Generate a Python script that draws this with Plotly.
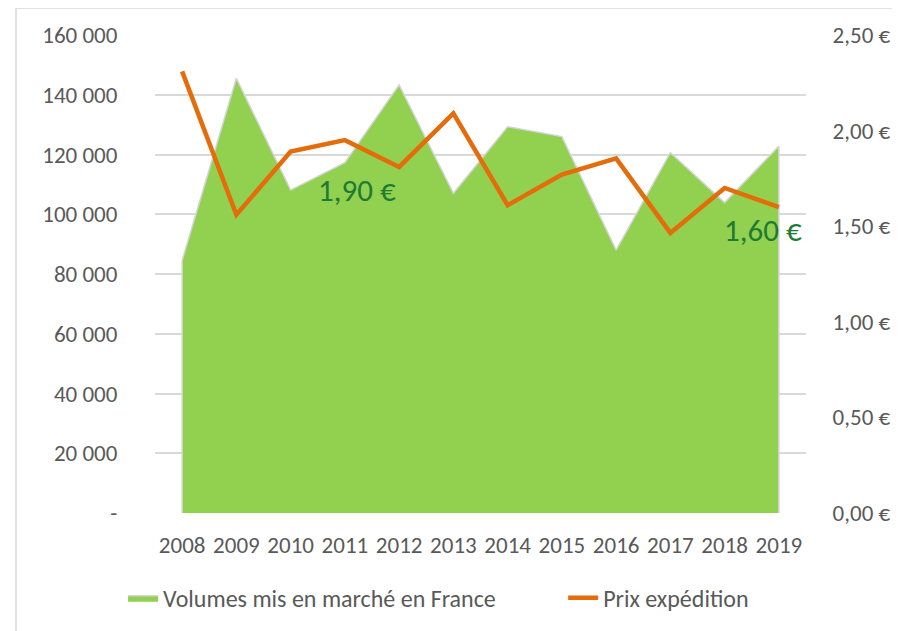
import plotly.graph_objects as go

years = ["2008", "2009", "2010", "2011", "2012", "2013", "2014", "2015", "2016", "2017", "2018", "2019"]
volumes = [84500, 145500, 108100, 117300, 143300, 107000, 129300, 126000, 88000, 120600, 103900, 122800]
prix = [2.31, 1.56, 1.89, 1.95, 1.81, 2.09, 1.61, 1.77, 1.855, 1.465, 1.70, 1.60]

left_vals = [0, 20000, 40000, 60000, 80000, 100000, 120000, 140000, 160000]
left_text = ["-", "20 000", "40 000", "60 000", "80 000", "100 000", "120 000", "140 000", "160 000"]
right_vals = [0, 0.5, 1.0, 1.5, 2.0, 2.5]
right_text = ["0,00 €", "0,50 €", "1,00 €", "1,50 €", "2,00 €", "2,50 €"]

name_area = "Volumes mis en marché en France"
name_line = "Prix expédition"
label_texts = ["1,90 €", "1,60 €"]

FONT = "Carlito, Calibri, Lato, sans-serif"
TICK = dict(size=23, color="#595959", family=FONT)
LEGFONT = dict(size=24, color="#595959", family=FONT)
xs = list(range(len(years)))

# closed outline for area (vertical edges at both ends, like Excel)
area_x = [xs[0]] + xs + [xs[-1]]
area_y = [0] + volumes + [0]

fig = go.Figure()
fig.add_trace(go.Scatter(
    x=area_x, y=area_y, name=name_area, mode="lines",
    fill="toself", fillcolor="#92D050",
    line=dict(color="#d4d4d4", width=1.5), legend="legend",
))
fig.add_trace(go.Scatter(
    x=xs, y=prix, name=name_line, mode="lines", yaxis="y2",
    line=dict(color="#E46C0A", width=4.5), legend="legend2",
))

fig.add_annotation(x=3.22, y=1.689, xref="x", yref="y2", text=label_texts[0],
                   showarrow=False, font=dict(size=31, color="#1E7B32", family=FONT))
fig.add_annotation(x=10.70, y=1.48, xref="x", yref="y2", text=label_texts[1],
                   showarrow=False, font=dict(size=31, color="#1E7B32", family=FONT))

fig.add_shape(type="rect", xref="paper", yref="paper",
              x0=-0.2135, x1=1.3, y0=-0.5, y1=1.0565,
              line=dict(color="#d9d9d9", width=1.5), layer="below")

fig.update_layout(
    width=900, height=631,
    margin=dict(l=147, r=102, t=27, b=126),
    paper_bgcolor="white", plot_bgcolor="white",
    font=dict(family=FONT, size=23, color="#595959"),
    showlegend=True,
    legend=dict(orientation="h", x=-0.049, xanchor="left", y=-0.178, yanchor="middle",
                font=LEGFONT, bgcolor="rgba(0,0,0,0)"),
    legend2=dict(orientation="h", x=0.627, xanchor="left", y=-0.178, yanchor="middle",
                 font=LEGFONT, bgcolor="rgba(0,0,0,0)"),
    xaxis=dict(range=[-0.5, 11.5], tickvals=xs, ticktext=years, showgrid=False,
               zeroline=False, showline=False, ticks="outside", ticklen=11,
               tickcolor="rgba(0,0,0,0)", tickfont=TICK),
    yaxis=dict(range=[0, 160000], tickvals=left_vals, ticktext=left_text,
               showgrid=True, gridcolor="#d9d9d9", gridwidth=1.5, zeroline=False,
               showline=False, ticks="outside", ticklen=32, tickcolor="rgba(0,0,0,0)",
               tickfont=TICK),
    yaxis2=dict(range=[0, 2.5], tickvals=right_vals, ticktext=right_text,
                overlaying="y", side="right", showgrid=False, zeroline=False,
                showline=False, ticks="outside", ticklen=21, tickcolor="rgba(0,0,0,0)",
                tickfont=TICK),
)

fig.write_html("out.html")
